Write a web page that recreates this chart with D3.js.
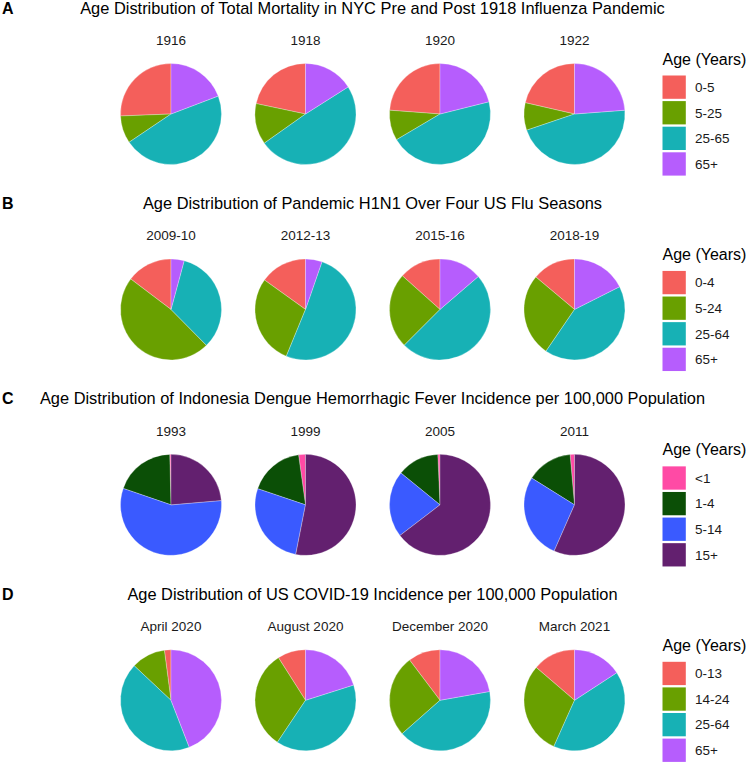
<!DOCTYPE html>
<html>
<head>
<meta charset="utf-8">
<script src="https://cdn.jsdelivr.net/npm/d3@7/dist/d3.min.js"></script>
<style>
  html, body { margin: 0; padding: 0; background: #ffffff; }
  svg { display: block; font-family: "Liberation Sans", Arial, Helvetica, sans-serif; }
</style>
</head>
<body>
<svg id="chart" width="750" height="763"></svg>
<script>
// ---------- data ----------
const panelLetters = ["A", "B", "C", "D"];
const panelTitles = [
  "Age Distribution of Total Mortality in NYC Pre and Post 1918 Influenza Pandemic",
  "Age Distribution of Pandemic H1N1 Over Four US Flu Seasons",
  "Age Distribution of Indonesia Dengue Hemorrhagic Fever Incidence per 100,000 Population",
  "Age Distribution of US COVID-19 Incidence per 100,000 Population"
];
const legendTitle = "Age (Years)";

const periodsA = ["1916", "1918", "1920", "1922"];
const periodsB = ["2009-10", "2012-13", "2015-16", "2018-19"];
const periodsC = ["1993", "1999", "2005", "2011"];
const periodsD = ["April 2020", "August 2020", "December 2020", "March 2021"];

const agesA = ["0-5", "5-25", "25-65", "65+"];
const agesB = ["0-4", "5-24", "25-64", "65+"];
const agesC = ["<1", "1-4", "5-14", "15+"];
const agesD = ["0-13", "14-24", "25-64", "65+"];

// percent share per age group, one row per period (age order as above)
const valuesA = [
  [25.6, 8.8, 46.3, 19.2],
  [21.7, 13.1, 49.2, 16.0],
  [23.8, 9.7, 45.4, 21.1],
  [21.4, 8.8, 46.0, 23.8]
];
const valuesB = [
  [14.7, 47.7, 33.4, 4.2],
  [15.1, 28.7, 50.9, 5.3],
  [13.4, 24.1, 48.8, 13.7],
  [13.9, 26.6, 42.0, 17.6]
];
const valuesC = [
  [0.4, 19.3, 56.6, 23.6],
  [2.2, 17.6, 27.1, 53.1],
  [0.7, 13.4, 21.3, 64.6],
  [1.4, 14.7, 27.3, 56.6]
];
const valuesD = [
  [2.1, 10.9, 42.9, 44.1],
  [9.0, 31.6, 39.3, 20.1],
  [10.3, 26.2, 41.3, 22.2],
  [13.7, 29.6, 40.9, 15.8]
];

const colorsHue = ["#F45F5B", "#69A000", "#17B1B5", "#B65DFD"];
const colorsDengue = ["#FF4AA5", "#0B4F06", "#3A5AFF", "#63206F"];

// ---------- build ----------
const panels = [
  { periods: periodsA, ages: agesA, values: valuesA, colors: colorsHue },
  { periods: periodsB, ages: agesB, values: valuesB, colors: colorsHue },
  { periods: periodsC, ages: agesC, values: valuesC, colors: colorsDengue },
  { periods: periodsD, ages: agesD, values: valuesD, colors: colorsHue }
];

const svg = d3.select("#chart");

const yPanel = d3.scalePoint().domain(d3.range(panels.length)).range([114, 700.3]);
const xPie = d3.scalePoint().domain(d3.range(4)).range([171, 574.5]);
const radius = 50.5;

const pie = d3.pie().sort(null).value(d => d).startAngle(0).endAngle(-2 * Math.PI);
const arc = d3.arc().innerRadius(0).outerRadius(radius);

const textColor = "#1a1a1a";

panels.forEach((p, i) => {
  const cy = yPanel(i);
  const g = svg.append("g");
  const color = d3.scaleOrdinal().domain(p.ages).range(p.colors);

  // panel letter
  g.append("text")
    .attr("x", 2).attr("y", cy - 100.5)
    .attr("font-size", 16).attr("font-weight", "bold")
    .attr("fill", "#000")
    .text(panelLetters[i]);

  // title
  g.append("text")
    .attr("x", 372.5).attr("y", cy - 100.5)
    .attr("text-anchor", "middle")
    .attr("font-size", 16.4)
    .attr("fill", "#000")
    .text(panelTitles[i]);

  // pies
  p.periods.forEach((per, j) => {
    const cx = xPie(j);
    g.append("text")
      .attr("x", cx).attr("y", cy - 69)
      .attr("text-anchor", "middle")
      .attr("font-size", 13.5)
      .attr("fill", textColor)
      .text(per);

    const pg = g.append("g").attr("transform", `translate(${cx},${cy})`);
    const arcs = pie(p.values[j]);
    pg.selectAll("path")
      .data(arcs)
      .join("path")
      .attr("d", arc)
      .attr("fill", (d, k) => color(p.ages[k]))
      .attr("stroke", "#ffffff")
      .attr("stroke-width", 0.4)
      .attr("stroke-opacity", 0.7);
  });

  // legend
  const lx = 662.5;
  g.append("text")
    .attr("x", lx).attr("y", cy - 49.5)
    .attr("font-size", 16)
    .attr("fill", "#000")
    .text(legendTitle);

  const keyStep = 25.6, keyH = 23.3, keyW = 23.3;
  const keyTop = cy - 38.5;
  p.ages.forEach((a, k) => {
    const ky = keyTop + k * keyStep;
    g.append("rect")
      .attr("x", lx).attr("y", ky)
      .attr("width", keyW).attr("height", keyH)
      .attr("fill", color(a));
    g.append("text")
      .attr("x", 695).attr("y", ky + keyH / 2 + 4.8)
      .attr("font-size", 13.5)
      .attr("fill", textColor)
      .text(a);
  });
});
</script>
</body>
</html>
